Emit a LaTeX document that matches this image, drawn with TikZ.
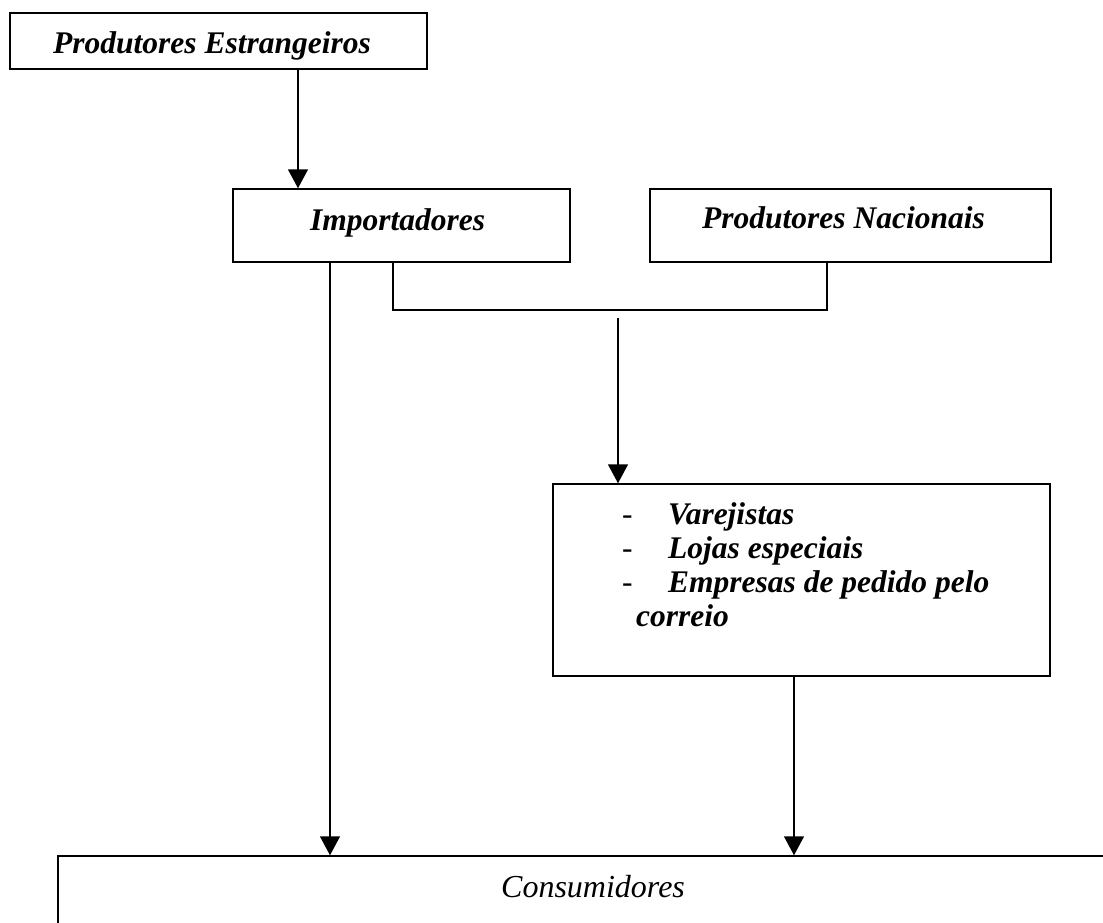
\documentclass[tikz,border=0pt]{standalone}
\usepackage{fontspec}
\setmainfont{Liberation Serif}
\usetikzlibrary{arrows.meta}
\begin{document}
\begin{tikzpicture}[x=1pt,y=-1pt,
  box/.style={draw, line width=1.5pt, rectangle, inner sep=0pt},
  lbl/.style={inner sep=0pt, anchor=base west, font=\fontsize{31.5}{34}\selectfont\bfseries\itshape},
  lblr/.style={inner sep=0pt, anchor=base west, font=\fontsize{32}{34}\selectfont\itshape},
  dashlbl/.style={inner sep=0pt, anchor=base west, font=\fontsize{31.5}{34}\selectfont},
  conn/.style={line width=1.5pt},
  arr/.style={line width=1.5pt, -{Triangle[width=20pt,length=19pt]}}]
\useasboundingbox (0,0) rectangle (1103,922);
% boxes
\node[box, minimum width=417pt, minimum height=56pt] (pe) at (218.5,41) {};
\node[box, minimum width=337pt, minimum height=73pt] (imp) at (401.5,225.5) {};
\node[box, minimum width=401pt, minimum height=73pt] (pn) at (850.5,225.5) {};
\node[box, minimum width=497pt, minimum height=192pt] (var) at (801.5,580) {};
\node[box, minimum width=1080pt, minimum height=90pt] (con) at (598,901) {};
% texts
\node[lbl] (tpe) at (53,53) {Produtores Estrangeiros};
\node[lbl] (timp) at (310,230) {Importadores};
\node[lbl] (tpn) at (702,228) {Produtores Nacionais};
\node[dashlbl] (d1) at (622,524) {-};
\node[dashlbl] (d2) at (622,558) {-};
\node[dashlbl] (d3) at (622,592) {-};
\node[lbl] (t1) at (668,524) {Varejistas};
\node[lbl] (t2) at (668,558) {Lojas especiais};
\node[lbl] (t3) at (668,592) {Empresas de pedido pelo};
\node[lbl] (t4) at (636,626) {correio};
\node[lblr] (tcon) at (501,897) {Consumidores};
% helper coordinates
\coordinate (c1) at (298,0);
\coordinate (c2) at (330,0);
\coordinate (c3) at (393,0);
\coordinate (c4) at (827,0);
\coordinate (j) at (618,318);
\coordinate (c5) at (794,0);
% connectors
\draw[arr] (pe.south -| c1) -- (imp.north -| c1);
\draw[arr] (imp.south -| c2) -- (con.north -| c2);
\draw[conn] (imp.south -| c3) -- ++(0,47) -| (pn.south -| c4);
\draw[arr] (j) -- (var.north -| j);
\draw[arr] (var.south -| c5) -- (con.north -| c5);
\end{tikzpicture}
\end{document}
